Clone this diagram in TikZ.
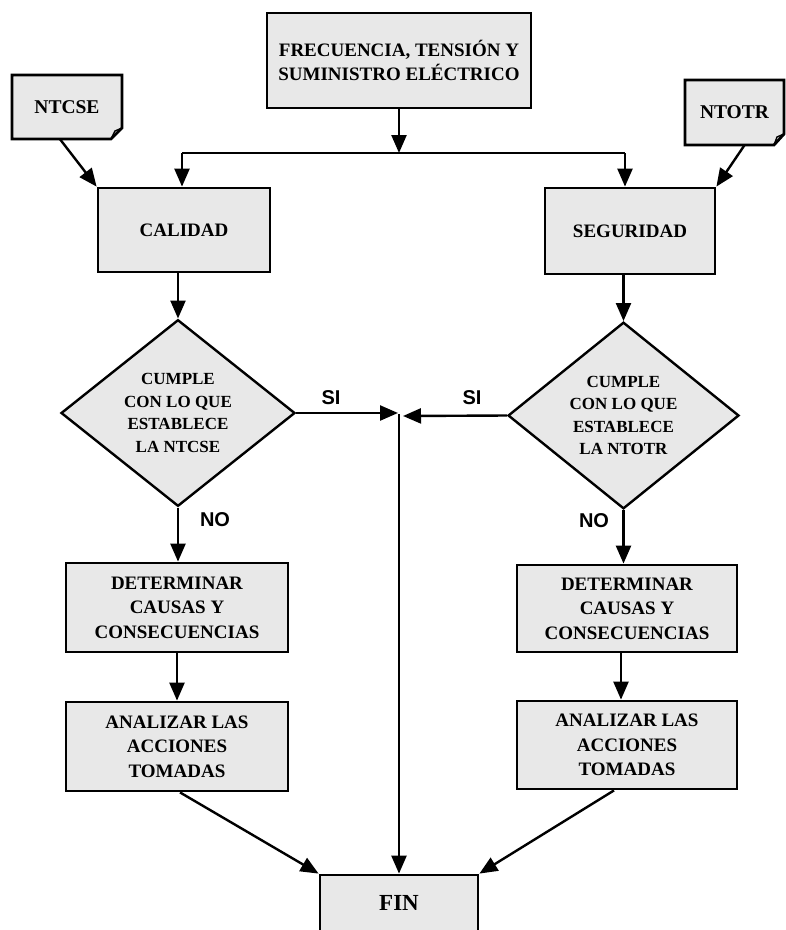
\documentclass[tikz,border=0pt]{standalone}
\usepackage{fontspec}
\setmainfont{Liberation Serif}
\newfontfamily\labelfont{Liberation Sans}
\usetikzlibrary{shapes.geometric,arrows.meta,calc}
\definecolor{boxgray}{gray}{0.91}
\begin{document}
\begin{tikzpicture}[x=1pt,y=-1pt,
  box/.style={draw, line width=2.8pt, fill=boxgray, align=center, inner sep=0pt,
    font=\bfseries\fontsize{19}{24.5}\selectfont},
  decision/.style={diamond, draw, line width=2.4pt, fill=boxgray, align=center, inner sep=0pt,
    font=\bfseries\fontsize{17}{22.5}\selectfont},
  doctext/.style={inner sep=0pt, font=\bfseries\fontsize{19.5}{24}\selectfont},
  docshape/.style={draw, line width=2.8pt, fill=boxgray, line join=miter},
  arr/.style={line width=2.4pt, -{Triangle[length=18pt,width=15pt]}},
  link/.style={line width=2.4pt},
  yesno/.style={font=\labelfont\bfseries\fontsize{20}{20}\selectfont}]

\useasboundingbox (0,0) rectangle (786,930);
\clip (0,0) rectangle (786,930);

% document symbols for the two standards
\draw[docshape] (12,75) -- (122,75) -- (122,128) -- (111,139) -- (12,139) -- cycle;
\draw[line width=1.4pt] (122,128) -- (115,131) -- (111,139);
\draw[docshape] (685,80) -- (784,80) -- (784,134) -- (774,145) -- (685,145) -- cycle;
\draw[line width=1.4pt] (784,134) -- (777,137) -- (774,145);
\node[doctext, minimum width=110pt, minimum height=64pt] (ntcse) at (67,107) {NTCSE};
\node[doctext, minimum width=99pt, minimum height=65pt] (ntotr) at (734.5,112.5) {NTOTR};

% process boxes
\node[box, minimum width=264pt, minimum height=95pt] (top) at (399,60.5)
  {FRECUENCIA, TENSIÓN Y\\SUMINISTRO ELÉCTRICO};
\node[box, minimum width=172pt, minimum height=84pt] (calidad) at (184,230) {CALIDAD};
\node[box, minimum width=170pt, minimum height=86pt] (seguridad) at (630,231) {SEGURIDAD};

\node[decision, minimum width=234pt, minimum height=177pt] (d1) at (178,413)
  {CUMPLE\\CON LO QUE\\ESTABLECE\\LA NTCSE};
\node[decision, minimum width=231pt, minimum height=177pt] (d2) at (623.5,415.5)
  {CUMPLE\\CON LO QUE\\ESTABLECE\\LA NTOTR};

\node[box, minimum width=222pt, minimum height=89pt] (det1) at (177,607.5)
  {DETERMINAR\\CAUSAS Y\\CONSECUENCIAS};
\node[box, minimum width=220pt, minimum height=87pt] (det2) at (627,608.5)
  {DETERMINAR\\CAUSAS Y\\CONSECUENCIAS};
\node[box, minimum width=222pt, minimum height=89pt] (ana1) at (177,746.5)
  {ANALIZAR LAS\\ACCIONES\\TOMADAS};
\node[box, minimum width=220pt, minimum height=88pt] (ana2) at (627,745)
  {ANALIZAR LAS\\ACCIONES\\TOMADAS};

\node[box, minimum width=158pt, minimum height=56pt, font=\bfseries\fontsize{23}{23}\selectfont]
  (fin) at (399,903) {FIN};

% split below the top box
\coordinate (jm) at (399,153);
\coordinate (jl) at (182,153);
\coordinate (jr) at (625,153);
\draw[arr] (top.south) -- (jm);
\draw[link] (jl) -- (jr);
\draw[arr] (jl) -- (jl |- calidad.north);
\draw[arr] (jr) -- (jr |- seguridad.north);

% standards feeding the checks
\draw[arr] ($(ntcse.south)+(-7,0)$) -- (calidad.north west);
\draw[arr] ($(ntotr.south)+(10,0)$) -- (seguridad.north east);

\draw[arr] (calidad.south -| d1.north) -- (d1.north);
\draw[arr] (seguridad.south -| d2.north) -- (d2.north);

% compliant branches join the central line
\coordinate (mid) at (399,414);
\draw[arr] (d1.east) -- (398,413);
\draw[arr] (d2.west) -- (403,416);
\draw[arr] (mid) -- (fin.north);
\node[yesno] (si1) at (331,398) {SI};
\node[yesno] (si2) at (472,398) {SI};

% non-compliant branches
\draw[arr] (d1.south) -- (d1.south |- det1.north);
\draw[arr] (d2.south) -- (d2.south |- det2.north);
\node[yesno] (no1) at (215,520) {NO};
\node[yesno] (no2) at (594,521) {NO};

\draw[arr] (det1.south) -- (ana1.north);
\draw[arr] (det2.south -| 621,0) -- (ana2.north -| 621,0);

\draw[arr] ($(ana1.south)+(3,0)$) -- (fin.north west);
\draw[arr] ($(ana2.south)+(-13,0)$) -- (fin.north east);
\end{tikzpicture}
\end{document}
